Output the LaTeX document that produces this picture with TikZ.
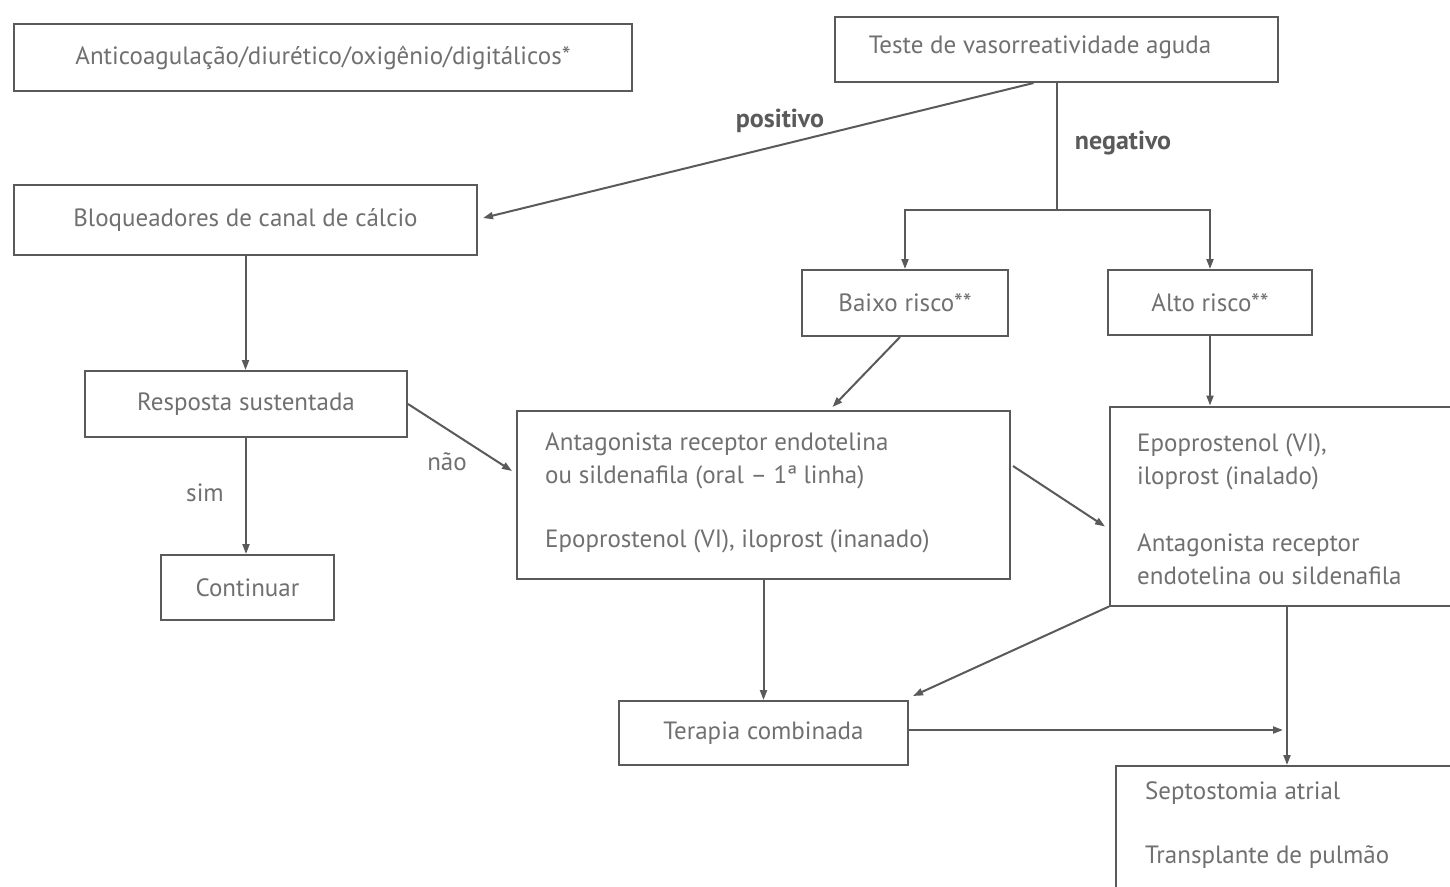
\documentclass[tikz,border=0pt]{standalone}
\usepackage{fontspec}
\setmainfont{PT Sans}
\usetikzlibrary{arrows.meta,calc}
\definecolor{linec}{HTML}{5A5A5A}
\definecolor{txtc}{HTML}{707070}
\definecolor{lblc}{HTML}{5A5A5A}
\begin{document}
\begin{tikzpicture}[x=1pt,y=-1pt,
  box/.style={draw=linec,line width=2pt,inner sep=0pt,text=txtc,
    font=\fontsize{25}{33}\selectfont},
  txt/.style={inner sep=0pt,text=txtc,align=left,anchor=west,
    font=\fontsize{25}{33}\selectfont},
  lbl/.style={inner sep=0pt,text=txtc,font=\fontsize{25}{28}\selectfont},
  blbl/.style={inner sep=0pt,text=lblc,font=\fontsize{26}{28}\selectfont\bfseries},
  arr/.style={draw=linec,line width=2pt,-{Triangle[length=10pt,width=7pt]}},
  ln/.style={draw=linec,line width=2pt}]
\useasboundingbox (0,0) rectangle (1450,886);
\fill[white] (0,0) rectangle (1450,886);
\clip (0,0) rectangle (1450,886);

% boxes
\node[box,minimum width=618pt,minimum height=67pt] (anti) at (323,57.5) {Anticoagulação/diurético/oxigênio/digitálicos*};
\node[box,minimum width=443pt,minimum height=65pt] (teste) at (1056.5,49.5) {};
\node[txt,anchor=center] (testet) at (1040,47) {Teste de vasorreatividade aguda};
\node[box,minimum width=463pt,minimum height=70pt] (bloq) at (245.5,220) {Bloqueadores de canal de cálcio};
\node[box,minimum width=206pt,minimum height=66pt] (baixo) at (905,303) {Baixo risco**};
\node[box,minimum width=204pt,minimum height=65pt] (alto) at (1210,302.5) {Alto risco**};
\node[box,minimum width=322pt,minimum height=66pt] (resp) at (246,404) {Resposta sustentada};
\node[box,minimum width=173pt,minimum height=65pt] (cont) at (247.5,587.5) {Continuar};
\node[box,minimum width=493pt,minimum height=168pt] (antag) at (763.5,495) {};
\node[txt] (antag1) at (545,460.5) {Antagonista receptor endotelina\\ou sildenafila (oral – 1ª linha)};
\node[txt] (antag2) at (545,541) {Epoprostenol (VI), iloprost (inanado)};
\node[box,minimum width=350pt,minimum height=199pt] (epo) at (1285,506) {};
\node[txt] (epo1) at (1137,462) {Epoprostenol (VI),\\iloprost (inalado)};
\node[txt] (epo2) at (1137,559) {Antagonista receptor\\endotelina ou sildenafila};
\node[box,minimum width=289pt,minimum height=64pt] (ter) at (763.5,733) {Terapia combinada};
\node[box,minimum width=344pt,minimum height=134pt] (septo) at (1288,833) {};
\node[txt] (septo1) at (1145,793) {Septostomia atrial};
\node[txt] (septo2) at (1145,857) {Transplante de pulmão};

% connectors
\draw[arr] ($(teste.south)+(-23,0)$) -- ($(bloq.east)+(5,-2)$);
\node[blbl] (pos) at (780,121) {positivo};
\coordinate (split) at (1056.5,210);
\draw[ln] (teste.south) -- (split);
\node[blbl] (neg) at (1123,143) {negativo};
\draw[arr] (split) -| (baixo.north);
\draw[arr] (split) -| (alto.north);
\draw[arr] (bloq.south) -- (bloq.south |- resp.north);
\draw[arr] (resp.south) -- (resp.south |- cont.north);
\node[lbl] (sim) at (205,493) {sim};
\draw[arr] (resp.east) -- ($(antag.north west)+(-4,61)$);
\node[lbl] (nao) at (447,462) {não};
\draw[arr] ($(baixo.south)+(-5,0)$) -- ($(antag.north)+(69,-3)$);
\draw[arr] (alto.south) -- (alto.south |- epo.north);
\draw[arr] ($(antag.north east)+(2,56)$) -- ($(epo.north west)+(-4,121)$);
\draw[arr] (antag.south) -- (ter.north);
\draw[arr] (epo.south west) -- ($(ter.north east)+(4,-4)$);
\coordinate (ep) at (1287,605.5);
\draw[arr] (ep) -- (ep |- septo.north);
\draw[arr] ($(ter.east)+(0,-3)$) -- ($(ep |- ter.east)+(-4,-3)$);
\end{tikzpicture}
\end{document}
